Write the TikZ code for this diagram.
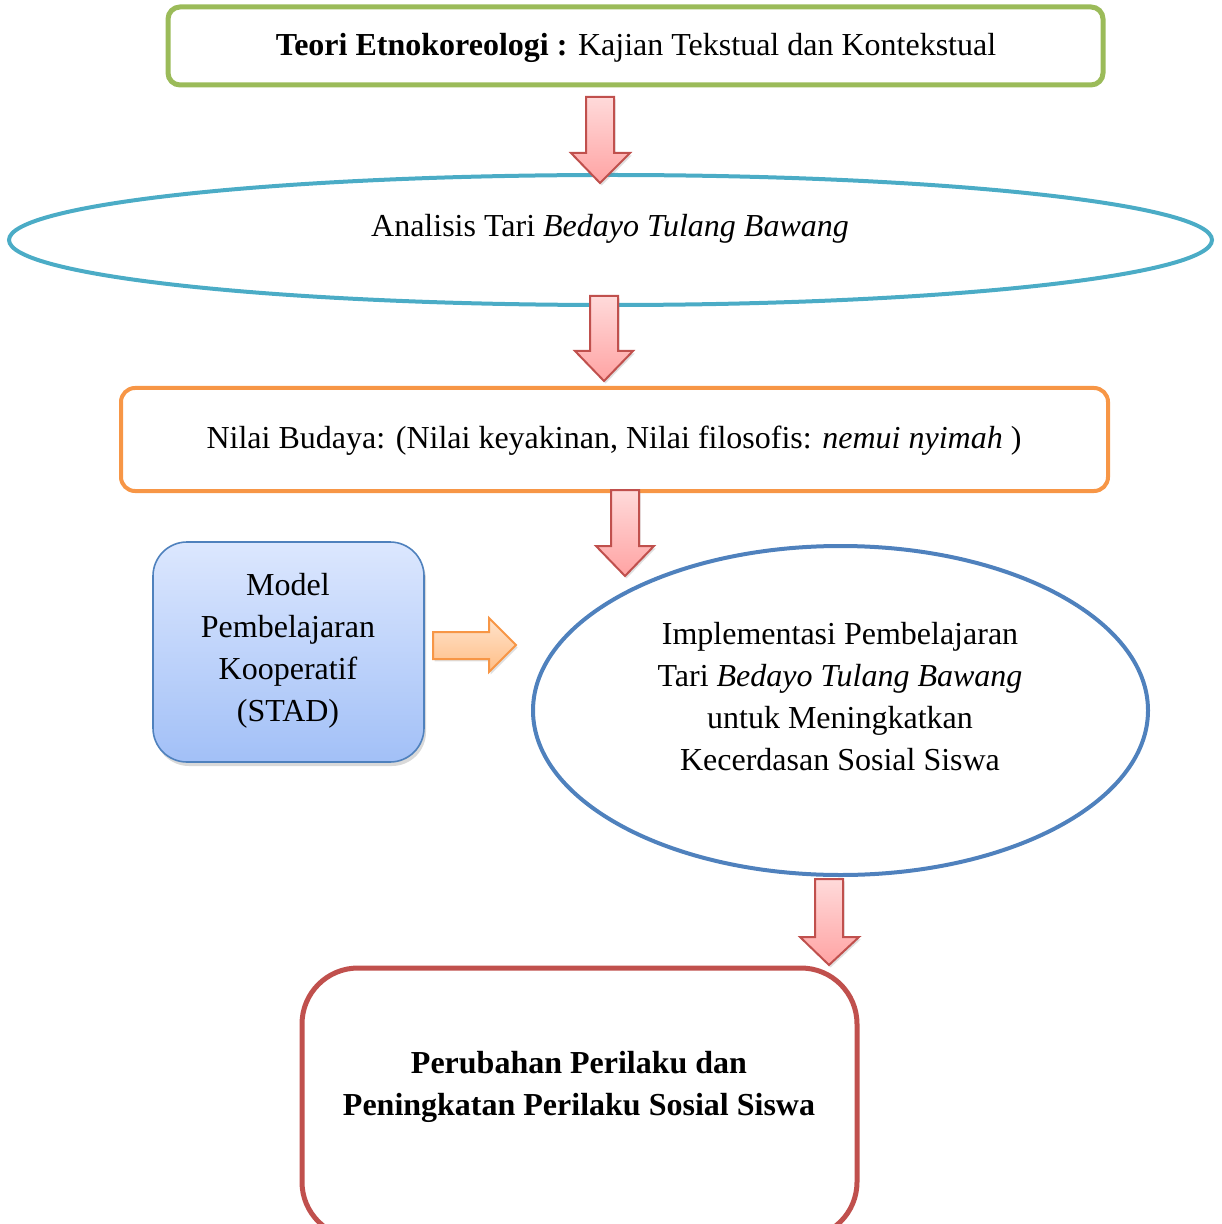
\documentclass[tikz,border=0pt]{standalone}
\usepackage{fontspec}
\setmainfont{Liberation Serif}
\usetikzlibrary{shapes.geometric,shadows}
\definecolor{cgreen}{HTML}{9BBB59}
\definecolor{cteal}{HTML}{4BACC6}
\definecolor{corange}{HTML}{F79646}
\definecolor{cblue}{HTML}{4F81BD}
\definecolor{cred}{HTML}{C0504D}
\definecolor{pinkA}{HTML}{FFDADA}
\definecolor{pinkB}{HTML}{FFA3A3}
\definecolor{orgA}{HTML}{FFE3CC}
\definecolor{orgB}{HTML}{FFBE86}
\definecolor{bluA}{HTML}{DCE7FE}
\definecolor{bluB}{HTML}{A2C0F7}
\tikzset{
  txt/.style={font=\fontsize{16}{21}\selectfont, align=center, inner sep=0pt},
  downarrow/.style={draw=cred, line width=1pt, top color=pinkA, bottom color=pinkB, line join=miter,
     drop shadow={shadow xshift=0.8pt, shadow yshift=-1.2pt, opacity=0.25}},
  rightarrow/.style={draw=corange, line width=1pt, top color=orgA, bottom color=orgB, line join=miter,
     drop shadow={shadow xshift=0.8pt, shadow yshift=-1.2pt, opacity=0.25}},
}
\begin{document}
\begin{tikzpicture}[x=0.5pt,y=-0.5pt]
\useasboundingbox (0,0) rectangle (1221,1224);
\begin{scope}
\clip (0,0) rectangle (1221,1224);
% top box
\node[draw=cgreen, line width=2.5pt, rounded corners=6pt, minimum width=467.5pt, minimum height=39pt, inner sep=0pt] (teori) at (635.5,46) {};
\node[txt] (teoritxt) at (636,48) {\textbf{Teori Etnokoreologi :} Kajian Tekstual dan Kontekstual};
% ellipse 1
\node[draw=cteal, line width=2pt, ellipse, minimum width=601.5pt, minimum height=65pt, inner sep=0pt] (analisis) at (610.5,240) {};
\node[txt] (analisistxt) at (610,229) {Analisis Tari \textit{Bedayo Tulang Bawang}};
% orange box
\node[draw=corange, line width=2pt, rounded corners=7pt, minimum width=493.5pt, minimum height=51.5pt, inner sep=0pt] (nilai) at (614.5,439.5) {};
\node[txt] (nilaitxt) at (614,441) {Nilai Budaya: (Nilai keyakinan, Nilai filosofis: \textit{nemui nyimah} )};
% blue box
\node[draw=cblue, line width=0.8pt, rounded corners=17pt, top color=bluA, bottom color=bluB, minimum width=135.5pt, minimum height=110pt, inner sep=0pt,
   drop shadow={shadow xshift=1pt, shadow yshift=-2pt, opacity=0.3}] (model) at (288.5,652) {};
\node[txt] (modeltxt) at (288,651) {Model\\Pembelajaran\\Kooperatif\\(STAD)};
% ellipse 2
\node[draw=cblue, line width=2pt, ellipse, minimum width=307.5pt, minimum height=164.5pt, inner sep=0pt] (impl) at (840.5,710.5) {};
\node[txt] (impltxt) at (840,697) {Implementasi Pembelajaran\\Tari \textit{Bedayo Tulang Bawang}\\untuk Meningkatkan\\Kecerdasan Sosial Siswa};
% bottom box
\node[draw=cred, line width=2.5pt, rounded corners=28pt, minimum width=277.5pt, minimum height=135pt, inner sep=0pt] (hasil) at (579.5,1103) {};
\node[txt, font=\fontsize{16}{21}\selectfont\bfseries] (hasiltxt) at (579,1087) {Perubahan Perilaku dan\\Peningkatan Perilaku Sosial Siswa};
% arrows
\coordinate (a1) at (600,97);
\draw[downarrow] (586,97) -- (614,97) -- (614,153) -- (630,153) -- (600,183) -- (571,153) -- (586,153) -- cycle;
\coordinate (a2) at (604,296);
\draw[downarrow] (590,296) -- (618,296) -- (618,351) -- (633,351) -- (604,381) -- (575,351) -- (590,351) -- cycle;
\coordinate (a3) at (625,490);
\draw[downarrow] (611,490) -- (639,490) -- (639,546) -- (654,546) -- (625,576) -- (596,546) -- (611,546) -- cycle;
\coordinate (a4) at (829,879);
\draw[downarrow] (815,879) -- (843,879) -- (843,937) -- (859,937) -- (829,965) -- (800,937) -- (815,937) -- cycle;
\draw[rightarrow] (433,632) -- (489,632) -- (489,618) -- (516,645) -- (489,672) -- (489,659) -- (433,659) -- cycle;
\end{scope}
\end{tikzpicture}
\end{document}
